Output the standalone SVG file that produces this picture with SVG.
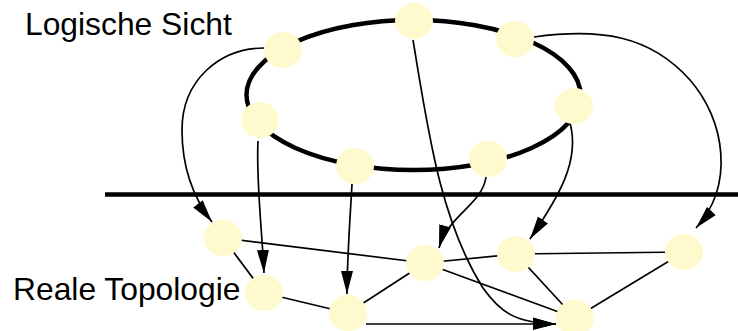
<svg xmlns="http://www.w3.org/2000/svg" width="738" height="331" viewBox="0 0 738 331">
<style>
.node{fill:#FFFACD;stroke:none}
.edge{fill:none;stroke:#000;stroke-width:1.7}
.arc{fill:none;stroke:#000;stroke-width:1.7;marker-end:url(#ah)}
.lbl{font-family:"Liberation Sans",Arial,sans-serif;font-size:31.8px;fill:#000}
</style>
<defs>
<marker id="ah" markerUnits="userSpaceOnUse" markerWidth="23" markerHeight="13" refX="23" refY="6.5" orient="auto">
<path d="M0,0.5 L23,6.5 L0,12.5 z" fill="#000"/>
</marker>
</defs>
<rect width="738" height="331" fill="#fff"/>
<text class="lbl" x="25" y="35">Logische Sicht</text>
<text class="lbl" x="13" y="300">Reale Topologie</text>
<ellipse cx="413.5" cy="95" rx="167" ry="75" fill="none" stroke="#000" stroke-width="4.5"/>
<line x1="105" y1="194.5" x2="738" y2="194.5" stroke="#000" stroke-width="4.5"/>
<g id="connectors">
<line class="edge" x1="223" y1="238" x2="425" y2="263"/>
<line class="edge" x1="223" y1="238" x2="264" y2="293"/>
<line class="edge" x1="264" y1="293" x2="348" y2="313"/>
<line class="edge" x1="348" y1="313" x2="425" y2="263"/>
<line class="edge" x1="425" y1="263" x2="516" y2="254"/>
<line class="edge" x1="516" y1="254" x2="684" y2="252"/>
<line class="edge" x1="425" y1="263" x2="575" y2="318"/>
<line class="edge" x1="516" y1="254" x2="575" y2="318"/>
<line class="edge" x1="684" y1="252" x2="575" y2="318"/>
<path class="arc" d="M366,324 L556,324"/>
<path class="arc" d="M413,40 C428,130 440,220 483,288 C500,312 515,323 556,324"/>
<path class="arc" d="M264,48 C220,48 182,80 182,130 C182,170 195,200 212,222"/>
<path class="arc" d="M258,141 C256,180 262,230 264,273"/>
<path class="arc" d="M352,184 C350,220 347,260 347,294"/>
<path class="arc" d="M486,177 C482,205 448,215 439,248"/>
<path class="arc" d="M570,123 C580,160 560,195 530,239"/>
<path class="arc" d="M534,37 C600,28 650,35 690,80 C725,120 735,185 696,228"/>
</g>
<g id="n_a"><ellipse class="node" cx="283" cy="50" rx="19" ry="18"/></g>
<g id="n_b"><ellipse class="node" cx="260" cy="120" rx="19" ry="18"/></g>
<g id="n_c"><ellipse class="node" cx="414" cy="21" rx="19" ry="18"/></g>
<g id="n_d"><ellipse class="node" cx="515" cy="39" rx="19" ry="18"/></g>
<g id="n_e"><ellipse class="node" cx="574" cy="106" rx="19" ry="18"/></g>
<g id="n_f"><ellipse class="node" cx="488" cy="159" rx="19" ry="18"/></g>
<g id="n_g"><ellipse class="node" cx="355" cy="166" rx="19" ry="18"/></g>
<g id="n_p1"><ellipse class="node" cx="223" cy="238" rx="19" ry="18"/></g>
<g id="n_p2"><ellipse class="node" cx="264" cy="293" rx="19" ry="18"/></g>
<g id="n_p3"><ellipse class="node" cx="348" cy="313" rx="19" ry="18"/></g>
<g id="n_p4"><ellipse class="node" cx="425" cy="263" rx="19" ry="18"/></g>
<g id="n_p5"><ellipse class="node" cx="516" cy="254" rx="19" ry="18"/></g>
<g id="n_p6"><ellipse class="node" cx="575" cy="318" rx="19" ry="18"/></g>
<g id="n_p7"><ellipse class="node" cx="684" cy="252" rx="19" ry="18"/></g>
</svg>
